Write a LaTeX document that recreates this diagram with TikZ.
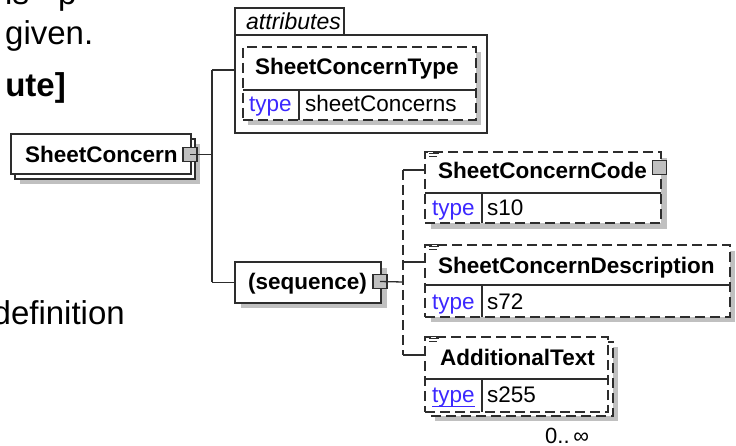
\documentclass[tikz,border=0pt]{standalone}
\usepackage{fontspec}
\setmainfont{Liberation Sans}
\definecolor{lncol}{RGB}{45,45,45}
\definecolor{shcol}{RGB}{192,192,192}
\definecolor{typecol}{RGB}{60,40,255}
\begin{document}
\begin{tikzpicture}[x=1pt,y=-1pt,
  ln/.style={draw=lncol,line width=1.3pt},
  dsh/.style={dash pattern=on 10pt off 5pt},
  nm/.style={font=\fontsize{22.5}{27}\selectfont\bfseries,inner sep=0pt,anchor=base west},
  tp/.style={font=\fontsize{22.5}{27}\selectfont,text=typecol,inner sep=0pt,anchor=base west},
  val/.style={font=\fontsize{22.5}{27}\selectfont,inner sep=0pt,anchor=base west},
  big/.style={font=\fontsize{33}{40}\selectfont,inner sep=0pt},
  box/.style={rectangle,inner sep=0pt,outer sep=0pt,fill=white,ln},
  expbox/.style={rectangle,inner sep=0pt,outer sep=0pt,minimum width=14pt,minimum height=14pt,fill=shcol,draw=lncol,line width=1.2pt},
  iconln/.style={draw=lncol,line width=0.9pt}
]
\clip (0,0) rectangle (736,446);
\fill[white] (0,0) rectangle (736,446);

% background text fragments
\node[big,anchor=base west] (bgA) at (5,5) {is};
\node[big,anchor=base west] (bgB) at (58,5) {p};
\node[big,anchor=base west] (bgC) at (5,45) {given.};
\node[big,anchor=base east,font=\fontsize{33}{40}\selectfont\bfseries] (bgD) at (66,97) {ute]};
\node[big,anchor=base east] (bgE) at (125,324) {definition};

% SheetConcern
\fill[shcol] (20,144) rectangle (200,184);
\draw[ln,fill=white] (15,139) rectangle (195,179);
\node[box,minimum width=180pt,minimum height=40pt] (sc) at (101,154) {};
\node[nm] (sctxt) at (25,163) {SheetConcern};
\node[expbox] (scx) at (190,154.5) {};

% attributes
\node[box,minimum width=109pt,minimum height=27pt] (tab) at (289.5,21.5) {};
\node[box,minimum width=252pt,minimum height=98pt] (attr) at (361,84) {};
\node[font=\fontsize{23}{27}\selectfont\itshape,inner sep=0pt,anchor=base west] (attrtxt) at (246,30) {attributes};

% SheetConcernType
\fill[shcol] (248,52) rectangle (481,125);
\node[box,dsh,minimum width=233pt,minimum height=73pt] (sctype) at (359.5,83.5) {};
\draw[ln] (243,90) -- (476,90);
\draw[ln] (299,90) -- (299,120);
\node[nm] (sctypetxt) at (255,75) {SheetConcernType};
\node[tp] (ttyp1) at (249,112) {type};
\node[val] (tval1) at (305,112) {sheetConcerns};

% sequence
\fill[shcol] (241,268) rectangle (387,308);
\node[box,minimum width=146pt,minimum height=41pt] (seq) at (308,282.5) {};
\node[nm] (seqtxt) at (248,290) {(sequence)};
\node[expbox] (seqx) at (380,281.5) {};

% connectors from SheetConcern
\coordinate (ja) at (212,70);
\coordinate (jm) at (212,154.5);
\coordinate (js) at (212,282.5);
\draw[ln] (scx.center) -- (jm);
\draw[ln] (ja) -- (js);
\draw[ln] (ja) -- (ja -| attr.west);
\draw[ln] (js) -- (seq.west);

% SheetConcernCode
\fill[shcol] (431,158) rectangle (667,229);
\node[box,dsh,minimum width=236pt,minimum height=71pt] (code) at (543,187.5) {};
\draw[ln] (425,193) -- (661,193);
\draw[ln] (482,193) -- (482,223);
\node[nm] (codetxt) at (438,179) {SheetConcernCode};
\node[expbox] (codex) at (659.5,167.5) {};
\node[tp] (ttyp2) at (432,216) {type};
\node[val] (tval2) at (487,216) {s10};

% SheetConcernDescription
\fill[shcol] (431,251) rectangle (735,322);
\node[box,dsh,minimum width=305pt,minimum height=72pt] (desc) at (577.5,281) {};
\draw[ln] (425,285) -- (730,285);
\draw[ln] (482,285) -- (482,317);
\node[nm] (desctxt) at (438,273) {SheetConcernDescription};
\node[tp] (ttyp3) at (432,309) {type};
\node[val] (tval3) at (487,309) {s72};

% AdditionalText
\fill[shcol] (435,347) rectangle (618,421);
\draw[ln,dsh,fill=white] (430,342) rectangle (613,416);
\node[box,dsh,minimum width=183pt,minimum height=75pt] (addt) at (516.5,374.5) {};
\draw[ln] (425,379) -- (608,379);
\draw[ln] (482,379) -- (482,412);
\node[nm] (addtxt) at (440,365) {AdditionalText};
\node[tp] (ttyp4) at (432,402) {type};
\draw[typecol,line width=1pt] (ttyp4.south west) -- (ttyp4.south east);
\node[val] (tval4) at (487,402) {s255};
\node[font=\fontsize{22}{26}\selectfont,inner sep=0pt,anchor=base west] (occ) at (545,443) {0..\,∞};

% icons
\foreach \yy in {151,244,336} {
  \draw[iconln] (426,\yy) -- (440,\yy);
  \draw[iconln] (429,\yy+2.7) -- (439,\yy+2.7);
  \draw[iconln] (429,\yy+5.4) -- (437,\yy+5.4);
}

% connectors from sequence
\coordinate (jq) at (403,282);
\coordinate (jc) at (403,170);
\coordinate (jd) at (403,262);
\coordinate (jt) at (403,355);
\draw[ln] (seqx.center) -- (jq);
\draw[ln,dsh] (jc) -- (jt);
\draw[ln] (jc) -- (jc -| code.west);
\draw[ln] (jd) -- (jd -| desc.west);
\draw[ln] (jt) -- (jt -| addt.west);
\end{tikzpicture}
\end{document}
